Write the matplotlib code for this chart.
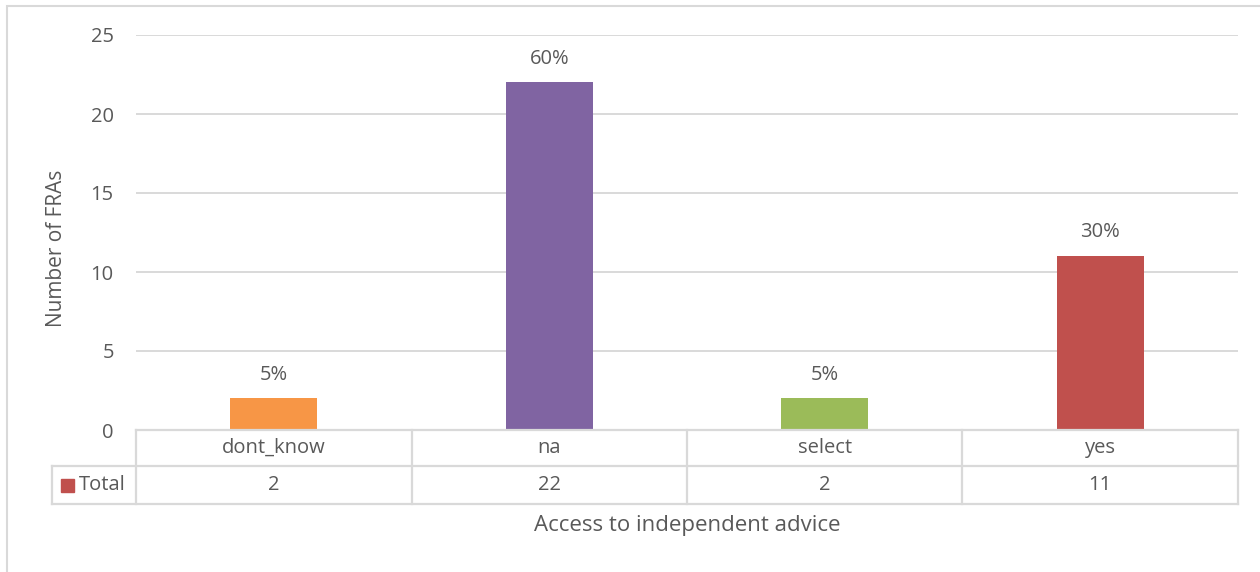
import matplotlib.pyplot as plt
from matplotlib.patches import Rectangle
from matplotlib.lines import Line2D

categories = ['dont_know', 'na', 'select', 'yes']
totals = [2, 22, 2, 11]
pct_labels = ['5%', '60%', '5%', '30%']
bar_colors = ['#F79646', '#8064A2', '#9BBB59', '#C0504D']
y_ticks = [0, 5, 10, 15, 20, 25]

txt = '#595959'
grid = '#D9D9D9'
plt.rcParams['font.family'] = ['Open Sans', 'DejaVu Sans']
fs = 14.5

fig = plt.figure(figsize=(12.6, 5.72), dpi=100)
W, H = 1260, 572


def fx(px):
    return px / W


def fy(py):
    return 1 - py / H


# outer chart frame
fig.add_artist(Rectangle((fx(7), fy(700)), 2, fy(6) - fy(700), transform=fig.transFigure,
                         fill=False, edgecolor=grid, linewidth=1.5))

left, right, top, bot = 136, 1238, 35, 430
ax = fig.add_axes([fx(left), fy(bot), fx(right) - fx(left), fy(top) - fy(bot)])
x = list(range(len(categories)))
ax.bar(x, totals, width=0.316, color=bar_colors, zorder=3)
for xi, v, lab in zip(x, totals, pct_labels):
    ax.annotate(lab, (xi, v), xytext=(0, 10), textcoords='offset points',
                ha='center', va='bottom', fontsize=fs, color=txt)
ax.set_xlim(-0.5, len(categories) - 0.5)
ax.set_ylim(0, 25)
ax.set_yticks(y_ticks)
ax.yaxis.grid(True, color=grid, linewidth=1.4, zorder=0)
ax.tick_params(axis='y', length=0, pad=16, labelsize=fs, labelcolor=txt)
ax.set_xticks([])
for s in ax.spines.values():
    s.set_visible(False)
ax.set_ylabel('Number of FRAs', fontsize=fs + 0.5, color=txt)
ax.yaxis.set_label_coords(-0.063, 0.46)

# data table under the plot
r0, r1, r2 = bot, 466, 504
lw = 1.6
fig.add_artist(Line2D([fx(left), fx(right)], [fy(r0), fy(r0)], color=grid, lw=lw))
fig.add_artist(Line2D([fx(52), fx(right)], [fy(r1), fy(r1)], color=grid, lw=lw))
fig.add_artist(Line2D([fx(52), fx(right)], [fy(r2), fy(r2)], color=grid, lw=lw))
fig.add_artist(Line2D([fx(52), fx(52)], [fy(r1), fy(r2)], color=grid, lw=lw))
cw = (right - left) / len(categories)
for i in range(len(categories) + 1):
    xp = left + i * cw
    fig.add_artist(Line2D([fx(xp), fx(xp)], [fy(r0), fy(r2)], color=grid, lw=lw))
for i, (c, v) in enumerate(zip(categories, totals)):
    xc = left + (i + 0.5) * cw
    fig.text(fx(xc), fy((r0 + r1) / 2), c, ha='center', va='center', fontsize=fs, color=txt)
    fig.text(fx(xc), fy((r1 + r2) / 2), str(v), ha='center', va='center', fontsize=fs, color=txt)
fig.add_artist(Rectangle((fx(61), fy(492)), fx(74) - fx(61), fy(479) - fy(492),
                         transform=fig.transFigure, color=bar_colors[3]))
fig.text(fx(79), fy((r1 + r2) / 2), 'Total', ha='left', va='center', fontsize=fs, color=txt)

fig.text(fx(687), fy(525), 'Access to independent advice', ha='center', va='center',
         fontsize=fs + 1.5, color=txt)

fig.savefig('out.png', dpi=100)
